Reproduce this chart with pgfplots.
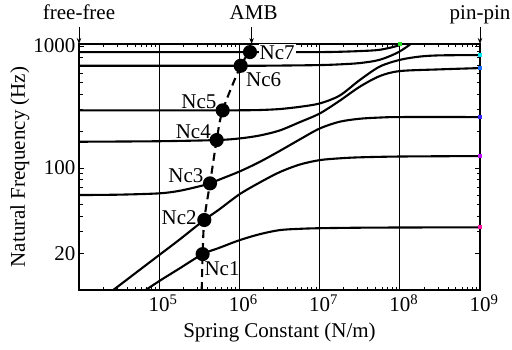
\documentclass[border=0pt]{standalone}
\usepackage{fontspec}
\setmainfont{Liberation Serif}
\usepackage{pgfplots}
\pgfplotsset{compat=1.18}
\usetikzlibrary{arrows.meta}

\definecolor{pinA}{RGB}{255,20,170}
\definecolor{pinB}{RGB}{190,20,255}
\definecolor{pinC}{RGB}{60,40,255}
\definecolor{pinD}{RGB}{30,110,255}
\definecolor{pinE}{RGB}{0,230,255}
\definecolor{topG}{RGB}{40,220,40}

\newcommand{\bigfont}{\fontsize{21}{25}\selectfont}
\newcommand{\decade}[1]{10\rlap{\textsuperscript{#1}}}

\begin{document}
\begin{tikzpicture}[font=\bigfont]
\begin{loglogaxis}[
  at={(0pt,0pt)}, anchor=south west,
  scale only axis, width=401pt, height=246pt,
  xmin=1e4, xmax=1e9, ymin=10, ymax=1040,
  axis line style={line width=1.2pt},
  xtick={1e5,1e6,1e7,1e8,1e9},
  xticklabels={\decade{5},\decade{6},\decade{7},\decade{8},\decade{9}},
  minor xtick={2e4,3e4,4e4,5e4,6e4,7e4,8e4,9e4,
               2e5,3e5,4e5,5e5,6e5,7e5,8e5,9e5,
               2e6,3e6,4e6,5e6,6e6,7e6,8e6,9e6,
               2e7,3e7,4e7,5e7,6e7,7e7,8e7,9e7,
               2e8,3e8,4e8,5e8,6e8,7e8,8e8,9e8},
  ytick={20,100,1000},
  yticklabels={20,100,1000},
  minor ytick={30,40,50,60,70,80,90,200,300,400,500,600,700,800,900},
  /pgf/number format/assume math mode=true,
  tick label style={font=\bigfont},
  xticklabel style={anchor=base, yshift=-21.7pt},
  major tick length=5pt, minor tick length=3.5pt,
  every tick/.style={black, line width=0.8pt},
  xmajorgrids=true,
  major grid style={black, line width=0.9pt},
  xlabel={Spring Constant (N/m)},
  ylabel={Natural Frequency (Hz)},
  every axis x label/.style={at={(axis description cs:0.5,0)}, anchor=base, yshift=-47pt, font=\bigfont},
  every axis y label/.style={at={(axis description cs:-0.1347,0.5)}, rotate=90, anchor=base, font=\bigfont},
  clip mode=individual,
  every axis plot/.append style={line width=2.1pt, black},
]

% mode 1
\addplot[smooth] coordinates {
  (5.77e4,9.31) (1e5,11.83) (1.778e5,14.97) (3.48e5,19.7) (5.623e5,22.18)
  (1e6,25.59) (1.778e6,28.64) (3.162e6,30.97) (5.623e6,31.74) (1e7,32.11)
  (3.162e7,32.42) (1e8,32.54) (1e9,32.66)};
% mode 2
\addplot[smooth] coordinates {
  (2.11e4,8.9) (3.162e4,10.87) (5.623e4,14.51) (1e5,19.35) (1.778e5,25.8)
  (3.65e5,37.5) (5.623e5,45.86) (1e6,60.86) (1.778e6,75.9) (3.162e6,92.4)
  (5.623e6,106.7) (1e7,116.1) (1.778e7,120.1) (3.162e7,122.4) (1e8,124.3)
  (1e9,125.4)};
% mode 3
\addplot[smooth] coordinates {
  (1e4,60.07) (3.162e4,60.5) (1e5,62.0) (1.778e5,65.0) (3.162e5,70.8)
  (4.30e5,74.9) (5.623e5,80.4) (1e6,93.6) (1.778e6,112.0) (3.162e6,137.8)
  (5.623e6,171.2) (1e7,210.8) (1.778e7,239.7) (3.162e7,253.6) (5.623e7,259.4)
  (1e8,261.8) (1e9,261.8)};
% mode 4
\addplot[smooth] coordinates {
  (1e4,164.3) (1e5,165.9) (5.21e5,169.6) (1e6,174.8) (1.778e6,184.7)
  (3.162e6,203.0) (5.623e6,237.4) (1e7,279.8) (1.778e7,356.1) (3.162e7,463.9)
  (5.623e7,567.5) (1e8,623.7) (3.162e8,644.2) (1e9,660.1)};
% mode 5
\addplot[smooth] coordinates {
  (1e4,297.2) (6.19e5,297.2) (1e6,297.5) (1.778e6,298.9) (3.162e6,304.5)
  (5.623e6,317.4) (1e7,338.4) (1.778e7,392.9) (3.162e7,526.4) (5.623e7,679.2)
  (1e8,770.8) (1.778e8,820.3) (3.162e8,839.0) (1e9,843.8)};
% mode 6
\addplot[smooth] coordinates {
  (1e4,689.5) (1.038e6,689.5) (3.162e6,692.1) (1e7,698.6) (1.778e7,707.9)
  (3.162e7,725.6) (5.623e7,772.2) (1e8,904.5) (1.778e8,1180)};
% mode 7
\addplot[smooth] coordinates {
  (1e4,892.9) (1.355e6,892.9) (1e7,892.9) (1.778e7,898) (3.162e7,909.9)
  (5.623e7,932.5) (1e8,1019) (1.34e8,1140)};

% critical speed path
\addplot[smooth, dash pattern=on 8pt off 5pt] coordinates {
  (3.39e5,10) (3.48e5,19.7) (3.65e5,37.5) (4.30e5,74.9) (5.21e5,169.6)
  (6.19e5,297.2) (1.038e6,689.5) (1.355e6,892.9)};
\addplot[only marks, mark=*, mark size=6pt, mark options={fill=black}] coordinates {
  (3.48e5,19.7) (3.65e5,37.5) (4.30e5,74.9) (5.21e5,169.6)
  (6.19e5,297.2) (1.038e6,689.5) (1.355e6,892.9)};

% pinned-end markers
\addplot[only marks, mark=square*, mark size=1.1pt, pinA, mark options={draw=pinA, fill=pinA}] coordinates {(1e9,32.66)};
\addplot[only marks, mark=square*, mark size=1.1pt, pinB, mark options={draw=pinB, fill=pinB}] coordinates {(1e9,125.4)};
\addplot[only marks, mark=square*, mark size=1.1pt, pinC, mark options={draw=pinC, fill=pinC}] coordinates {(1e9,261.8)};
\addplot[only marks, mark=square*, mark size=1.1pt, pinD, mark options={draw=pinD, fill=pinD}] coordinates {(1e9,660.1)};
\addplot[only marks, mark=square*, mark size=1.1pt, pinE, mark options={draw=pinE, fill=pinE}] coordinates {(1e9,843.8)};
\addplot[only marks, mark=square*, mark size=1.1pt, topG, mark options={draw=topG, fill=topG}] coordinates {(1e8,1040)};

% labels
\node at (axis cs:6.07e5,14.87) {Nc1};
\node at (axis cs:1.775e5,39.3) {Nc2};
\node at (axis cs:2.15e5,86.3) {Nc3};
\node at (axis cs:2.66e5,198.4) {Nc4};
\node at (axis cs:3.12e5,352.8) {Nc5};
\node at (axis cs:2.01e6,526) {Nc6};
\node[fill=white, inner sep=1pt] at (axis cs:2.96e6,889) {Nc7};

% boundary condition markers
\draw[-{Stealth[length=6pt,width=4.5pt]}, line width=0.8pt] ([yshift=17pt]axis cs:1e4,1040) -- (axis cs:1e4,1040);
\draw[-{Stealth[length=6pt,width=4.5pt]}, line width=0.8pt] ([yshift=17pt]axis cs:1.42e6,1040) -- (axis cs:1.42e6,1040);
\draw[-{Stealth[length=6pt,width=4.5pt]}, line width=0.8pt] ([yshift=17pt]axis cs:1e9,1040) -- (axis cs:1e9,1040);
\node[anchor=base] at ([yshift=24.7pt]axis cs:1e4,1040) {free-free};
\node[anchor=base] at ([yshift=24.7pt,xshift=2pt]axis cs:1.42e6,1040) {AMB};
\node[anchor=base] at ([yshift=24.7pt]axis cs:1e9,1040) {pin-pin};
\end{loglogaxis}
\pgfresetboundingbox
\path[use as bounding box] (-79pt,-59pt) rectangle (433pt,290pt);
\end{tikzpicture}
\end{document}
